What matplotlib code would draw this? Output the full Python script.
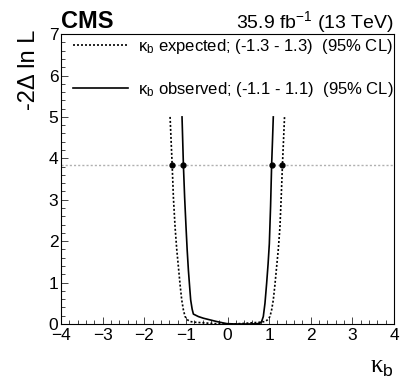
import matplotlib
matplotlib.use('Agg')
import matplotlib.pyplot as plt
import numpy as np

plt.rcParams['font.family'] = ['Liberation Sans', 'DejaVu Sans']
plt.rcParams['mathtext.fontset'] = 'custom'
plt.rcParams['mathtext.rm'] = 'Liberation Sans'
plt.rcParams['mathtext.it'] = 'Liberation Sans:italic'

# observed scan (solid)
kb_obs = [-1.093, -1.06, -1.03, -0.997, -0.97, -0.94, -0.91, -0.885, -0.85, -0.82,
          -0.70, -0.58, -0.42, -0.26, -0.12, -0.02, 0.2, 0.5, 0.70, 0.78,
          0.82, 0.86, 0.90, 0.94, 0.975, 1.005, 1.035, 1.06, 1.08, 1.10]
nll_obs = [5.0, 3.84, 3.05, 2.34, 1.80, 1.30, 0.90, 0.58, 0.36, 0.24,
           0.18, 0.14, 0.10, 0.06, 0.03, 0.01, 0.0, 0.0, 0.005, 0.02,
           0.06, 0.18, 0.50, 0.98, 1.45, 1.94, 2.85, 3.84, 4.40, 5.0]

# expected scan (dotted)
kb_exp = [-1.38, -1.33, -1.30, -1.26, -1.22, -1.18, -1.14, -1.10, -1.06, -1.02,
          -0.96, -0.90, -0.75, -0.58, -0.40, -0.2, 0.0, 0.2, 0.40, 0.58,
          0.75, 0.90, 0.96, 1.02, 1.06, 1.10, 1.14, 1.18, 1.22, 1.26,
          1.29, 1.32, 1.37]
nll_exp = [5.0, 3.84, 3.05, 2.34, 1.80, 1.38, 0.95, 0.58, 0.34, 0.18,
           0.10, 0.06, 0.04, 0.03, 0.015, 0.005, 0.0, 0.005, 0.015, 0.03,
           0.04, 0.06, 0.10, 0.18, 0.34, 0.58, 0.95, 1.38, 1.80, 2.34,
           3.05, 3.84, 5.0]

cl95 = 3.84
cross_exp = [-1.33, 1.32]
cross_obs = [-1.06, 1.06]

fig = plt.figure(figsize=(4.07, 3.83), dpi=100)
ax = fig.add_axes([0.150, 0.154, 0.818, 0.757])

ax.axhline(cl95, color='#b0b0b0', lw=1.0, ls=(0, (1.5, 1.5)))
l_exp, = ax.plot(kb_exp, nll_exp, color='black', lw=1.2, ls=(0, (1.2, 1.2)))
l_obs, = ax.plot(kb_obs, nll_obs, color='black', lw=1.2, ls='-')
ax.plot(cross_exp, [cl95] * 2, 'o', color='black', ms=3.5)
ax.plot(cross_obs, [cl95] * 2, 'o', color='black', ms=3.5)

ax.set_xlim(-4, 4)
ax.set_ylim(0, 7)
ax.set_xticks(np.arange(-4, 5, 1))
ax.set_yticks(np.arange(0, 8, 1))
ax.set_xticklabels(['\u22124', '\u22123', '\u22122', '\u22121', '0', '1', '2', '3', '4'])
ax.xaxis.set_minor_locator(matplotlib.ticker.MultipleLocator(0.2))
ax.yaxis.set_minor_locator(matplotlib.ticker.MultipleLocator(0.2))
ax.tick_params(which='both', direction='in', top=False, right=False, labelsize=12.5, width=0.7, color='#444444')
ax.tick_params(which='major', length=5)
ax.tick_params(which='minor', length=2.7)
ax.tick_params(axis='x', pad=3)
ax.tick_params(axis='y', pad=2)
for s in ax.spines.values():
    s.set_linewidth(0.8)

ax.legend([l_exp, l_obs],
          ['\u03ba$_{\\mathrm{b}}$ expected; (-1.3 - 1.3)  (95% CL)',
           '\u03ba$_{\\mathrm{b}}$ observed; (-1.1 - 1.1)  (95% CL)'],
          loc='upper left', bbox_to_anchor=(0.036, 0.99), frameon=False,
          fontsize=12, handlelength=3.3, handletextpad=0.6, labelspacing=1.45,
          borderpad=0, borderaxespad=0)

fig.text(0.150, 1 - 28 / 383, 'CMS', fontsize=17, fontweight='bold', ha='left', va='baseline')
fig.text(0.968, 1 - 28 / 383, r'35.9 fb$^{-1}$ (13 TeV)', fontsize=14, ha='right', va='baseline')
fig.text(29 / 407, 1 - 30 / 383, '-2\u0394 ln L', fontsize=17, rotation=90, ha='center', va='top')
fig.text(0.968, 1 - 373 / 383, '\u03ba$_{\\mathrm{b}}$', fontsize=18, ha='right', va='baseline',
         family=['Liberation Serif', 'DejaVu Serif'])

fig.savefig('out.png', dpi=100)
